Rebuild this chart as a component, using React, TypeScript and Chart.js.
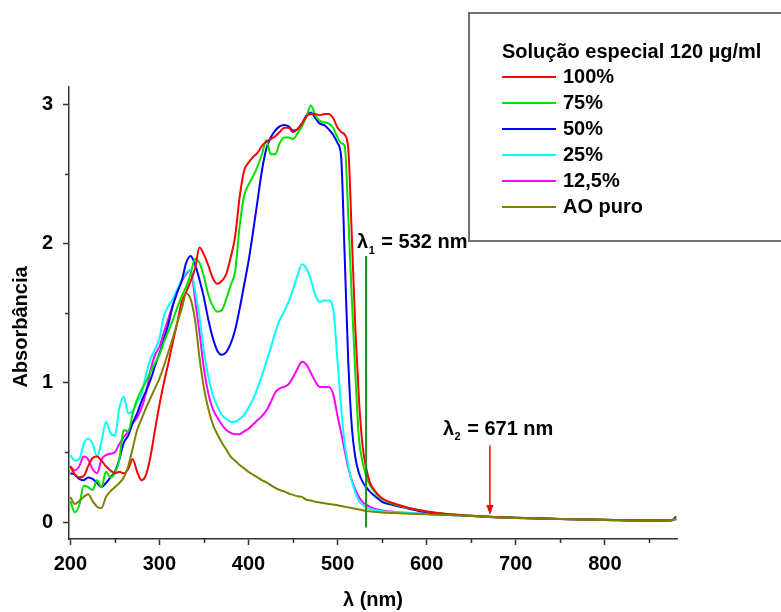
import React, { useEffect, useRef } from "react";
import { Chart, registerables } from "chart.js";

Chart.register(...registerables);

// ---------- DATA ----------
const wavelengths = [
  200, 205, 210, 215, 220, 225, 230, 235, 240, 245, 250, 255, 260, 265, 270, 275, 280, 285, 290, 295,
  300, 305, 310, 315, 320, 325, 330, 335, 340, 345, 350, 355, 360, 365, 370, 375, 380, 385, 390, 395,
  400, 405, 410, 415, 420, 425, 430, 435, 440, 445, 450, 455, 460, 465, 470, 475, 480, 485, 490, 495,
  500, 504, 508, 512, 516, 520, 524, 528, 532, 536, 540, 545, 550, 560, 570, 580, 600,
  625, 650, 675, 700, 750, 800, 850, 875, 880,
];

const abs100 = [
  0.40, 0.34, 0.32, 0.33, 0.40, 0.46, 0.47, 0.44, 0.40, 0.37, 0.35, 0.36, 0.35, 0.38, 0.45, 0.36, 0.30, 0.34, 0.47, 0.66,
  0.84, 1.00, 1.14, 1.29, 1.43, 1.58, 1.65, 1.73, 1.82, 1.97, 1.92, 1.84, 1.75, 1.71, 1.73, 1.78, 1.90, 2.05, 2.33, 2.52,
  2.58, 2.62, 2.65, 2.70, 2.73, 2.75, 2.77, 2.80, 2.83, 2.83, 2.80, 2.82, 2.86, 2.91, 2.93, 2.93, 2.92, 2.93, 2.93, 2.90,
  2.83, 2.80, 2.78, 2.68, 2.05, 1.38, 0.88, 0.55, 0.39, 0.29, 0.24, 0.20, 0.17, 0.14, 0.12, 0.10, 0.075,
  0.055, 0.045, 0.036, 0.030, 0.022, 0.016, 0.011, 0.013, 0.030,
];

const abs75 = [
  0.15, 0.07, 0.12, 0.26, 0.25, 0.23, 0.30, 0.25, 0.36, 0.32, 0.35, 0.45, 0.66, 0.65, 0.78, 0.88, 0.95, 1.01, 1.08, 1.14,
  1.20, 1.29, 1.37, 1.45, 1.54, 1.62, 1.69, 1.78, 1.89, 1.86, 1.76, 1.63, 1.55, 1.51, 1.52, 1.60, 1.70, 1.80, 2.12, 2.34,
  2.42, 2.48, 2.55, 2.64, 2.74, 2.64, 2.64, 2.72, 2.76, 2.76, 2.75, 2.79, 2.84, 2.91, 2.99, 2.92, 2.88, 2.87, 2.86, 2.83,
  2.76, 2.72, 2.70, 2.20, 1.60, 1.05, 0.60, 0.43, 0.33, 0.27, 0.23, 0.19, 0.165, 0.135, 0.115, 0.10, 0.075,
  0.055, 0.045, 0.036, 0.030, 0.022, 0.016, 0.011, 0.013, 0.025,
];

const abs50 = [
  0.35, 0.34, 0.31, 0.30, 0.32, 0.31, 0.28, 0.25, 0.28, 0.32, 0.36, 0.45, 0.57, 0.62, 0.71, 0.78, 0.87, 0.94, 1.02, 1.12,
  1.21, 1.31, 1.42, 1.55, 1.65, 1.73, 1.86, 1.91, 1.85, 1.74, 1.61, 1.45, 1.32, 1.23, 1.20, 1.22, 1.28, 1.38, 1.53, 1.70,
  1.87, 2.08, 2.30, 2.52, 2.68, 2.76, 2.81, 2.84, 2.85, 2.84, 2.81, 2.82, 2.86, 2.92, 2.94, 2.90, 2.86, 2.85, 2.82, 2.78,
  2.72, 2.62, 1.90, 1.15, 0.68, 0.46, 0.35, 0.29, 0.25, 0.22, 0.195, 0.17, 0.145, 0.125, 0.11, 0.095, 0.07,
  0.055, 0.045, 0.036, 0.030, 0.022, 0.016, 0.011, 0.013, 0.040,
];

const abs25 = [
  0.48, 0.44, 0.45, 0.56, 0.60, 0.56, 0.47, 0.58, 0.72, 0.64, 0.62, 0.82, 0.90, 0.78, 0.80, 0.86, 0.92, 1.06, 1.17, 1.24,
  1.32, 1.48, 1.55, 1.60, 1.67, 1.74, 1.79, 1.81, 1.66, 1.47, 1.22, 1.04, 0.91, 0.83, 0.77, 0.74, 0.72, 0.72, 0.74, 0.77,
  0.82, 0.88, 0.96, 1.05, 1.15, 1.25, 1.36, 1.45, 1.51, 1.58, 1.67, 1.77, 1.85, 1.82, 1.74, 1.63, 1.58, 1.59, 1.59, 1.53,
  1.15, 0.82, 0.56, 0.41, 0.29, 0.21, 0.15, 0.125, 0.105, 0.095, 0.088, 0.082, 0.078, 0.072, 0.068, 0.064, 0.058,
  0.050, 0.043, 0.035, 0.029, 0.021, 0.015, 0.010, 0.012, 0.020,
];

const abs12_5 = [
  0.40, 0.37, 0.40, 0.47, 0.45, 0.38, 0.35, 0.45, 0.48, 0.49, 0.50, 0.56, 0.61, 0.65, 0.71, 0.75, 0.82, 0.93, 1.09, 1.20,
  1.26, 1.36, 1.46, 1.56, 1.65, 1.73, 1.78, 1.81, 1.60, 1.36, 1.10, 0.92, 0.81, 0.75, 0.70, 0.66, 0.64, 0.63, 0.63, 0.65,
  0.67, 0.70, 0.73, 0.76, 0.80, 0.86, 0.93, 0.96, 0.97, 0.99, 1.04, 1.10, 1.15, 1.13, 1.07, 1.01, 0.97, 0.97, 0.97, 0.92,
  0.76, 0.64, 0.51, 0.39, 0.30, 0.23, 0.18, 0.145, 0.125, 0.11, 0.10, 0.09, 0.083, 0.075, 0.069, 0.065, 0.058,
  0.050, 0.043, 0.035, 0.029, 0.021, 0.015, 0.010, 0.012, 0.020,
];

const absAO = [
  0.18, 0.13, 0.15, 0.18, 0.20, 0.15, 0.11, 0.10, 0.18, 0.22, 0.25, 0.28, 0.32, 0.40, 0.53, 0.66, 0.74, 0.82, 0.89, 0.96,
  1.03, 1.12, 1.22, 1.32, 1.43, 1.53, 1.64, 1.60, 1.45, 1.18, 0.96, 0.81, 0.70, 0.63, 0.57, 0.52, 0.47, 0.44, 0.41, 0.385,
  0.36, 0.34, 0.32, 0.30, 0.285, 0.265, 0.245, 0.23, 0.22, 0.205, 0.195, 0.185, 0.18, 0.16, 0.155, 0.145, 0.14, 0.135, 0.13, 0.125,
  0.12, 0.115, 0.11, 0.105, 0.10, 0.095, 0.09, 0.085, 0.08, 0.077, 0.074, 0.071, 0.068, 0.065, 0.062, 0.06, 0.055,
  0.050, 0.043, 0.035, 0.029, 0.021, 0.015, 0.010, 0.012, 0.025,
];

const seriesLabels = ["100%", "75%", "50%", "25%", "12,5%", "AO puro"];
const seriesValues = [abs100, abs75, abs50, abs25, abs12_5, absAO];
const seriesColors = ["#ff0000", "#00e000", "#0000ff", "#00ffff", "#ff00ff", "#808000"];
const legendTitle = "Solução especial 120 µg/ml";

const xMajorTicks = [200, 300, 400, 500, 600, 700, 800];
const xMinorTicks = [250, 350, 450, 550, 650, 750, 850];
const yMajorTicks = [0, 1, 2, 3];
const yMinorTicks = [0.5, 1.5, 2.5];

const xTitle = "λ (nm)";
const yTitle = "Absorbância";

const lambda1 = { nm: 532, label: "532 nm", sub: "1", top: 1.91, bottom: -0.04 };
const lambda2 = { nm: 671, label: "671 nm", sub: "2", top: 0.55, bottom: 0.05 };

// ---------- STYLE ----------
const FONT = "'Liberation Sans', Arial, Helvetica, sans-serif";
const FS = 20;
const AXIS_COLOR = "#333333";

const overlayPlugin = {
  id: "overlay",
  afterDatasetsDraw(chart: any) {
    const { ctx, scales } = chart;
    const x = scales.x;
    const y = scales.y;
    ctx.save();

    // λ1 vertical line
    const lx = x.getPixelForValue(lambda1.nm);
    const ly1 = y.getPixelForValue(lambda1.top);
    const ly2 = y.getPixelForValue(lambda1.bottom);
    ctx.strokeStyle = "#1f8a1f";
    ctx.lineWidth = 2;
    ctx.beginPath();
    ctx.moveTo(lx, ly1);
    ctx.lineTo(lx, ly2);
    ctx.stroke();

    // λ2 arrow
    const ax = x.getPixelForValue(lambda2.nm);
    const ay1 = y.getPixelForValue(lambda2.top);
    const ay2 = y.getPixelForValue(lambda2.bottom);
    ctx.strokeStyle = "#ff0000";
    ctx.fillStyle = "#ff0000";
    ctx.lineWidth = 1.5;
    ctx.beginPath();
    ctx.moveTo(ax, ay1);
    ctx.lineTo(ax, ay2 - 8);
    ctx.stroke();
    ctx.beginPath();
    ctx.moveTo(ax - 3.5, ay2 - 10);
    ctx.lineTo(ax + 3.5, ay2 - 10);
    ctx.lineTo(ax, ay2);
    ctx.closePath();
    ctx.fill();

    const drawLambda = (left: number, mid: number, sub: string, rest: string) => {
      ctx.fillStyle = "#000";
      ctx.textAlign = "left";
      ctx.textBaseline = "middle";
      ctx.font = `bold ${FS}px ${FONT}`;
      ctx.fillText("λ", left, mid);
      const wl = ctx.measureText("λ").width;
      ctx.font = `bold 11px ${FONT}`;
      ctx.fillText(sub, left + wl + 0.5, mid + 8);
      const ws = ctx.measureText(sub).width;
      ctx.font = `bold ${FS}px ${FONT}`;
      ctx.fillText("= " + rest, left + wl + ws + 7, mid);
    };
    drawLambda(lx - 9, ly1 - 13, lambda1.sub, lambda1.label);
    drawLambda(ax - 47, ay1 - 16, lambda2.sub, lambda2.label);

    ctx.restore();
  },
  afterDraw(chart: any) {
    const { ctx, scales } = chart;
    const x = scales.x;
    const y = scales.y;
    ctx.save();

    // minor ticks
    ctx.strokeStyle = AXIS_COLOR;
    ctx.lineWidth = 1.5;
    xMinorTicks.forEach((v) => {
      const px = Math.round(x.getPixelForValue(v)) + 0.5;
      ctx.beginPath();
      ctx.moveTo(px, y.bottom);
      ctx.lineTo(px, y.bottom + 4);
      ctx.stroke();
    });
    yMinorTicks.forEach((v) => {
      const py = Math.round(y.getPixelForValue(v)) + 0.5;
      ctx.beginPath();
      ctx.moveTo(x.left - 4, py);
      ctx.lineTo(x.left, py);
      ctx.stroke();
    });

    // axis titles
    ctx.fillStyle = "#000";
    ctx.font = `bold ${FS}px ${FONT}`;
    ctx.textAlign = "center";
    ctx.textBaseline = "middle";
    ctx.fillText(xTitle, (x.left + x.right) / 2, 600);
    ctx.save();
    ctx.translate(21, 327);
    ctx.rotate(-Math.PI / 2);
    ctx.fillText(yTitle, 0, 0);
    ctx.restore();

    // legend box
    const bx = 469;
    const by = 13;
    const bh = 228;
    ctx.fillStyle = "#ffffff";
    ctx.fillRect(bx, by, 400, bh);
    ctx.strokeStyle = "#707070";
    ctx.lineWidth = 2;
    ctx.strokeRect(bx, by, 400, bh);

    ctx.fillStyle = "#000";
    ctx.textAlign = "left";
    ctx.textBaseline = "middle";
    ctx.font = `bold ${FS}px ${FONT}`;
    ctx.fillText(legendTitle, 502, 52);
    seriesLabels.forEach((label, i) => {
      const yy = 77 + i * 26;
      ctx.strokeStyle = seriesColors[i];
      ctx.lineWidth = 2;
      ctx.beginPath();
      ctx.moveTo(502, yy);
      ctx.lineTo(556, yy);
      ctx.stroke();
      ctx.fillStyle = "#000";
      ctx.fillText(label, 563, yy);
    });

    ctx.restore();
  },
};

export default function App() {
  const canvasRef = useRef<HTMLCanvasElement | null>(null);

  useEffect(() => {
    document.body.style.margin = "0";
    const canvas = canvasRef.current;
    if (!canvas) return;

    const datasets = seriesLabels.map((label, i) => ({
      label,
      data: wavelengths.map((w, j) => ({ x: w, y: seriesValues[i][j] })),
      borderColor: seriesColors[i],
      backgroundColor: seriesColors[i],
      borderWidth: 2,
      pointRadius: 0,
      fill: false,
      cubicInterpolationMode: "monotone" as const,
      order: i === 5 ? 0 : 1,
    }));

    const chart = new Chart(canvas, {
      type: "line",
      data: { datasets },
      plugins: [overlayPlugin],
      options: {
        animation: false,
        responsive: false,
        devicePixelRatio: 1,
        layout: { padding: { left: 0, top: 87, right: 104, bottom: 0 } },
        plugins: {
          legend: { display: false },
          tooltip: { enabled: false },
          title: { display: false },
        },
        scales: {
          x: {
            type: "linear",
            min: 198.5,
            max: 881,
            afterBuildTicks: (scale: any) => {
              scale.ticks = xMajorTicks.map((v) => ({ value: v }));
            },
            afterFit: (scale: any) => {
              scale.height = 73;
            },
            grid: {
              display: true,
              drawOnChartArea: false,
              drawTicks: true,
              tickLength: 6,
              tickColor: AXIS_COLOR,
              tickWidth: 1.5,
            },
            border: { display: true, color: AXIS_COLOR, width: 1.5 },
            ticks: {
              color: "#000",
              font: { family: FONT, size: FS, weight: "bold" },
              padding: 7,
              maxRotation: 0,
              autoSkip: false,
              callback: (v: any) => String(v),
            },
          },
          y: {
            type: "linear",
            min: -0.122,
            max: 3.123,
            afterBuildTicks: (scale: any) => {
              scale.ticks = yMajorTicks.map((v) => ({ value: v }));
            },
            afterFit: (scale: any) => {
              scale.width = 69;
            },
            grid: {
              display: true,
              drawOnChartArea: false,
              drawTicks: true,
              tickLength: 6,
              tickColor: AXIS_COLOR,
              tickWidth: 1.5,
            },
            border: { display: true, color: AXIS_COLOR, width: 1.5 },
            ticks: {
              color: "#000",
              font: { family: FONT, size: FS, weight: "bold" },
              padding: 10,
              autoSkip: false,
              callback: (v: any) => String(v),
            },
          },
        },
      },
    });

    return () => {
      chart.destroy();
    };
  }, []);

  return (
    <div style={{ width: 781, height: 612 }}>
      <canvas ref={canvasRef} width={781} height={612} style={{ display: "block" }} />
    </div>
  );
}
